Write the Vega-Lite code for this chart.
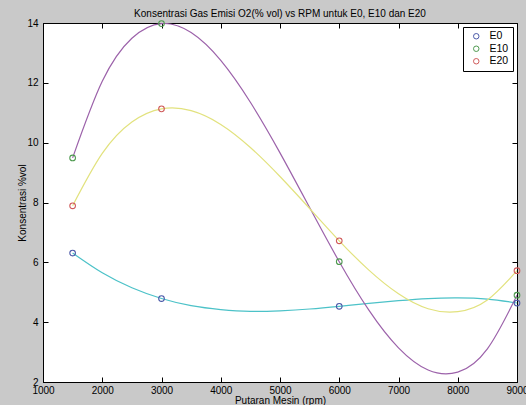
{
  "$schema": "https://vega.github.io/schema/vega-lite/v6.json",
  "width": 474,
  "height": 359,
  "autosize": {"type": "none"},
  "padding": {"left": 43, "top": 23, "right": 9, "bottom": 23},
  "background": "#c9c9c9",
  "config": {
    "font": "Liberation Sans",
    "view": {"fill": "white", "stroke": "black", "strokeWidth": 1},
    "axis": {
      "grid": false,
      "domainColor": "black",
      "tickColor": "black",
      "tickSize": -5,
      "labelColor": "black",
      "labelFontSize": 10,
      "titleFontSize": 10,
      "titleFontWeight": "normal",
      "titleColor": "black"
    }
  },
  "title": {
    "text": "Konsentrasi Gas Emisi O2(% vol) vs RPM untuk E0, E10 dan E20",
    "fontSize": 10,
    "fontWeight": "normal",
    "color": "black",
    "offset": -1
  },
  "datasets": {
    "titik": [
      {"rpm": 1500, "o2": 6.31, "seri": "E0"},
      {"rpm": 3000, "o2": 4.79, "seri": "E0"},
      {"rpm": 6000, "o2": 4.53, "seri": "E0"},
      {"rpm": 9000, "o2": 4.64, "seri": "E0"},
      {"rpm": 1500, "o2": 9.49, "seri": "E10"},
      {"rpm": 3000, "o2": 13.98, "seri": "E10"},
      {"rpm": 6000, "o2": 6.02, "seri": "E10"},
      {"rpm": 9000, "o2": 4.90, "seri": "E10"},
      {"rpm": 1500, "o2": 7.89, "seri": "E20"},
      {"rpm": 3000, "o2": 11.13, "seri": "E20"},
      {"rpm": 6000, "o2": 6.72, "seri": "E20"},
      {"rpm": 9000, "o2": 5.72, "seri": "E20"}
    ],
    "kurva": [
      {"rpm": 1500, "o2": 6.31, "seri": "E0"},
      {"rpm": 2000, "o2": 5.65, "seri": "E0"},
      {"rpm": 2500, "o2": 5.15, "seri": "E0"},
      {"rpm": 3000, "o2": 4.79, "seri": "E0"},
      {"rpm": 3500, "o2": 4.55, "seri": "E0"},
      {"rpm": 4000, "o2": 4.42, "seri": "E0"},
      {"rpm": 4500, "o2": 4.36, "seri": "E0"},
      {"rpm": 5000, "o2": 4.38, "seri": "E0"},
      {"rpm": 5500, "o2": 4.44, "seri": "E0"},
      {"rpm": 6000, "o2": 4.53, "seri": "E0"},
      {"rpm": 6500, "o2": 4.63, "seri": "E0"},
      {"rpm": 7000, "o2": 4.72, "seri": "E0"},
      {"rpm": 7500, "o2": 4.79, "seri": "E0"},
      {"rpm": 8000, "o2": 4.81, "seri": "E0"},
      {"rpm": 8500, "o2": 4.77, "seri": "E0"},
      {"rpm": 9000, "o2": 4.64, "seri": "E0"},
      {"rpm": 1500, "o2": 9.49, "seri": "E10"},
      {"rpm": 2000, "o2": 12.05, "seri": "E10"},
      {"rpm": 2500, "o2": 13.49, "seri": "E10"},
      {"rpm": 3000, "o2": 13.98, "seri": "E10"},
      {"rpm": 3500, "o2": 13.68, "seri": "E10"},
      {"rpm": 4000, "o2": 12.75, "seri": "E10"},
      {"rpm": 4500, "o2": 11.35, "seri": "E10"},
      {"rpm": 5000, "o2": 9.66, "seri": "E10"},
      {"rpm": 5500, "o2": 7.83, "seri": "E10"},
      {"rpm": 6000, "o2": 6.02, "seri": "E10"},
      {"rpm": 6500, "o2": 4.40, "seri": "E10"},
      {"rpm": 7000, "o2": 3.14, "seri": "E10"},
      {"rpm": 7500, "o2": 2.40, "seri": "E10"},
      {"rpm": 8000, "o2": 2.33, "seri": "E10"},
      {"rpm": 8500, "o2": 3.11, "seri": "E10"},
      {"rpm": 9000, "o2": 4.90, "seri": "E10"},
      {"rpm": 1500, "o2": 7.89, "seri": "E20"},
      {"rpm": 2000, "o2": 9.64, "seri": "E20"},
      {"rpm": 2500, "o2": 10.69, "seri": "E20"},
      {"rpm": 3000, "o2": 11.13, "seri": "E20"},
      {"rpm": 3500, "o2": 11.07, "seri": "E20"},
      {"rpm": 4000, "o2": 10.61, "seri": "E20"},
      {"rpm": 4500, "o2": 9.84, "seri": "E20"},
      {"rpm": 5000, "o2": 8.87, "seri": "E20"},
      {"rpm": 5500, "o2": 7.80, "seri": "E20"},
      {"rpm": 6000, "o2": 6.72, "seri": "E20"},
      {"rpm": 6500, "o2": 5.74, "seri": "E20"},
      {"rpm": 7000, "o2": 4.95, "seri": "E20"},
      {"rpm": 7500, "o2": 4.45, "seri": "E20"},
      {"rpm": 8000, "o2": 4.35, "seri": "E20"},
      {"rpm": 8500, "o2": 4.74, "seri": "E20"},
      {"rpm": 9000, "o2": 5.72, "seri": "E20"}
    ]
  },
  "resolve": {"axis": {"x": "independent", "y": "independent"}},
  "layer": [
    {
      "data": {"name": "kurva"},
      "mark": {"type": "line", "interpolate": "natural", "strokeWidth": 1.2, "clip": true},
      "encoding": {
        "x": {
          "field": "rpm", "type": "quantitative",
          "scale": {"domain": [1000, 9000], "nice": false},
          "axis": {
            "title": "Putaran Mesin (rpm)",
            "values": [1000, 2000, 3000, 4000, 5000, 6000, 7000, 8000, 9000],
            "format": "d",
            "labelFlush": false,
            "labelPadding": 8,
            "titlePadding": 0
          }
        },
        "y": {
          "field": "o2", "type": "quantitative",
          "scale": {"domain": [2, 14], "nice": false},
          "axis": {
            "title": "Konsentrasi %vol",
            "values": [2, 4, 6, 8, 10, 12, 14],
            "labelFlush": false,
            "labelPadding": 10,
            "titlePadding": -1
          }
        },
        "stroke": {
          "field": "seri", "type": "nominal",
          "scale": {"domain": ["E0", "E10", "E20"], "range": ["#4cc2c8", "#9c62aa", "#e2e27e"]},
          "legend": null
        },
        "detail": {"field": "seri"}
      }
    },
    {
      "data": {"name": "titik"},
      "mark": {"type": "point", "filled": false, "size": 32, "strokeWidth": 1.1, "opacity": 1},
      "encoding": {
        "x": {"field": "rpm", "type": "quantitative", "axis": {"orient": "top", "labels": false, "title": null, "domain": false, "values": [1000, 2000, 3000, 4000, 5000, 6000, 7000, 8000, 9000]}},
        "y": {"field": "o2", "type": "quantitative", "axis": {"orient": "right", "labels": false, "title": null, "domain": false, "values": [2, 4, 6, 8, 10, 12, 14]}},
        "color": {
          "field": "seri", "type": "nominal",
          "scale": {"range": ["#4a58a8", "#4f9a50", "#d05a5a"]},
          "legend": {
            "title": null,
            "orient": "top-right",
            "offset": 4,
            "fillColor": "white",
            "strokeColor": "black",
            "padding": 4,
            "labelFontSize": 10.5,
            "labelColor": "black",
            "symbolSize": 30,
            "symbolStrokeWidth": 1,
            "rowPadding": 1.5,
            "labelOffset": 8,
            "symbolOffset": 4,
            "cornerRadius": 0
          }
        }
      }
    }
  ]
}
